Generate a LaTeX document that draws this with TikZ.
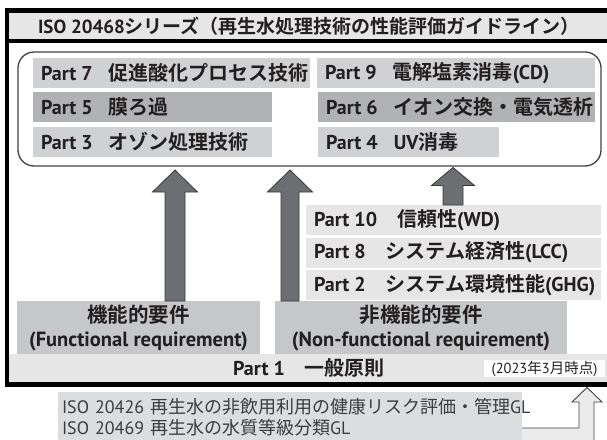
\documentclass[tikz,border=0pt]{standalone}
\usepackage{fontspec}
\setmainfont{PT Sans}
\newfontfamily\jp{Noto Sans CJK JP}[BoldFont={Noto Sans CJK JP Bold}]
\usetikzlibrary{calc}
\definecolor{ctext}{HTML}{231F20}
\definecolor{cbtext}{HTML}{3C3C3E}
\definecolor{ctitle}{HTML}{E6E6E7}
\definecolor{clight}{HTML}{D0D1D2}
\definecolor{cdark}{HTML}{B1B2B3}
\definecolor{cvlight}{HTML}{E6E6E7}
\definecolor{cfunc}{HTML}{C6C7C8}
\definecolor{carrow}{HTML}{6D6E71}
\definecolor{carrowline}{HTML}{3A3A3C}
\definecolor{cbottom}{HTML}{DCDDDE}
\definecolor{cbent}{HTML}{EBEBEC}
\definecolor{cline}{HTML}{414042}
\newcommand\fpart{\fontsize{20}{24}\selectfont\bfseries}
\newcommand\ffunc{\fontsize{20.5}{24}\selectfont\bfseries}
\newcommand\ftitle{\fontsize{19}{22}\selectfont\bfseries}
\newcommand\fdate{\fontsize{14.5}{16}\selectfont}
\newcommand\fbottom{\fontsize{18}{20.5}\selectfont}
\newcommand\lft[2]{\makebox[#1][l]{#2}}
\newcommand\gap{\hspace{0.8em}}
\begin{document}
\begin{tikzpicture}[x=1pt,y=-1pt,
  box/.style={anchor=north west, inner sep=0pt, outer sep=0pt},
  pbox/.style={box, minimum height=30pt, inner xsep=8pt, font=\fpart, text=ctext},
  cbox/.style={box, align=center, font=\fpart, text=ctext},
  blockarrow/.style n args={3}{fill=carrow, draw=carrowline, line width=0.8pt, line join=miter,
    to path={let \p1=(\tikztostart), \p2=(\tikztotarget) in
      (\x1-#1,\y1) -- (\x1-#1,\y2-#3) -- (\x1-#2,\y2-#3) -- (\x1,\y2)
      -- (\x1+#2,\y2-#3) -- (\x1+#1,\y2-#3) -- (\x1+#1,\y1) -- cycle}},
  frameline/.style={line width=4.6pt, draw=black}
]
\useasboundingbox (0,0) rectangle (607,439);

% title bar and outer frame
\node[box, fill=ctitle, minimum width=600pt, minimum height=27pt] (titlebar) at (9,12.5) {};
\node[font=\ftitle, text=ctext] (title) at (309,26) {ISO 20468{\jp シリーズ（再生水処理技術の性能評価ガイドライン）}};

% rounded container
\node[box, draw=cline, line width=1.3pt, rounded corners=16pt, minimum width=583pt, minimum height=114pt] (rbox) at (18,52) {};

% left column
\node[pbox, fill=clight] (p7) at (33,58) {\lft{261pt}{Part 7\gap{\jp 促進酸化プロセス技術}}};
\node[pbox, fill=cdark] (p5) at (33,92) {\lft{223pt}{Part 5\gap{\jp 膜ろ過}}};
\node[pbox, fill=clight] (p3) at (33,127) {\lft{223pt}{Part 3\gap{\jp オゾン処理技術}}};
% right column
\node[pbox, fill=clight] (p9) at (317,58) {\lft{262pt}{Part 9\gap{\jp 電解塩素消毒}(CD)}};
\node[pbox, fill=cdark] (p6) at (318,92) {\lft{261pt}{Part 6\gap{\jp イオン交換・電気透析}}};
\node[pbox, fill=clight] (p4) at (318,127) {\lft{165pt}{Part 4\gap UV{\jp 消毒}}};

% non-functional parts
\node[pbox, fill=cvlight] (p10) at (306,205) {\lft{279pt}{Part 10\hspace{1em}{\jp 信頼性}(WD)}};
\node[pbox, fill=cvlight] (p8) at (306,237.5) {\lft{279pt}{Part 8\hspace{1em}{\jp システム経済性}(LCC)}};
\node[pbox, fill=cvlight] (p2) at (306,270) {\lft{279pt}{Part 2\hspace{1em}{\jp システム環境性能}(GHG)}};

% requirement boxes
\node[cbox, fill=cfunc, minimum width=243pt, minimum height=53pt, font=\ffunc] (func) at (17,301) {{\jp 機能的要件}\\(Functional requirement)};
\node[cbox, fill=cfunc, minimum width=292pt, minimum height=53pt, font=\ffunc] (nonfunc) at (275,301) {{\jp 非機能的要件}\\(Non-functional requirement)};

% part 1 bar
\node[cbox, fill=cvlight, minimum width=600pt, minimum height=28pt] (p1) at (9,354) {Part 1\hspace{1em}{\jp 一般原則}};
\node[box, fill=white, minimum width=121pt, minimum height=17pt, font=\fdate, text=ctext] (date) at (484,360) {(2023{\jp 年}3{\jp 月時点})};

% outer frame (open on the right)
\draw[frameline] (612,10.5) -- (7,10.5) -- (7,384.5) -- (612,384.5);
\draw[line width=4pt] (7,41) -- (612,41);

% block arrows
\coordinate (c1) at (175,0);
\coordinate (c2) at (290,0);
\coordinate (c3) at (453,0);
\path (rbox.south -| c1) ++(0,4) coordinate (t1);
\path (rbox.south -| c2) ++(0,4) coordinate (t2);
\path (rbox.south -| c3) ++(0,1.5) coordinate (t3);
\draw[blockarrow={10pt}{22.5pt}{22pt}] (func.north -| c1) to (t1);
\draw[blockarrow={9pt}{22.5pt}{22pt}] (nonfunc.north -| c2) to (t2);
\draw[blockarrow={10pt}{21.5pt}{18pt}] (p10.north -| c3) to (t3);

% bottom related guidelines
\node[box, fill=cbottom, minimum width=464pt, minimum height=50pt, inner xsep=4pt, align=left,
  text width=456pt, font=\fbottom, text=cbtext] (bott) at (58,392)
  {ISO 20426 {\jp 再生水の非飲用利用の健康リスク評価・管理}GL\\ISO 20469 {\jp 再生水の水質等級分類}GL};

% bent hollow arrow
\path (bott.north east) ++(0,36) coordinate (e0);
\coordinate (btip) at (587,387.5);
\fill[cbent] (e0) -- (579,428) -- (579,402) -- (572,402) -- (btip) -- (602,402) -- (594,402) -- (594,445) -- (e0 |- 0,445) -- cycle;
\draw[cline, line width=0.9pt, line join=miter] (e0) -- (579,428) -- (579,402) -- (572,402) -- (btip) -- (602,402) -- (594,402) -- (594,445);
\end{tikzpicture}
\end{document}
